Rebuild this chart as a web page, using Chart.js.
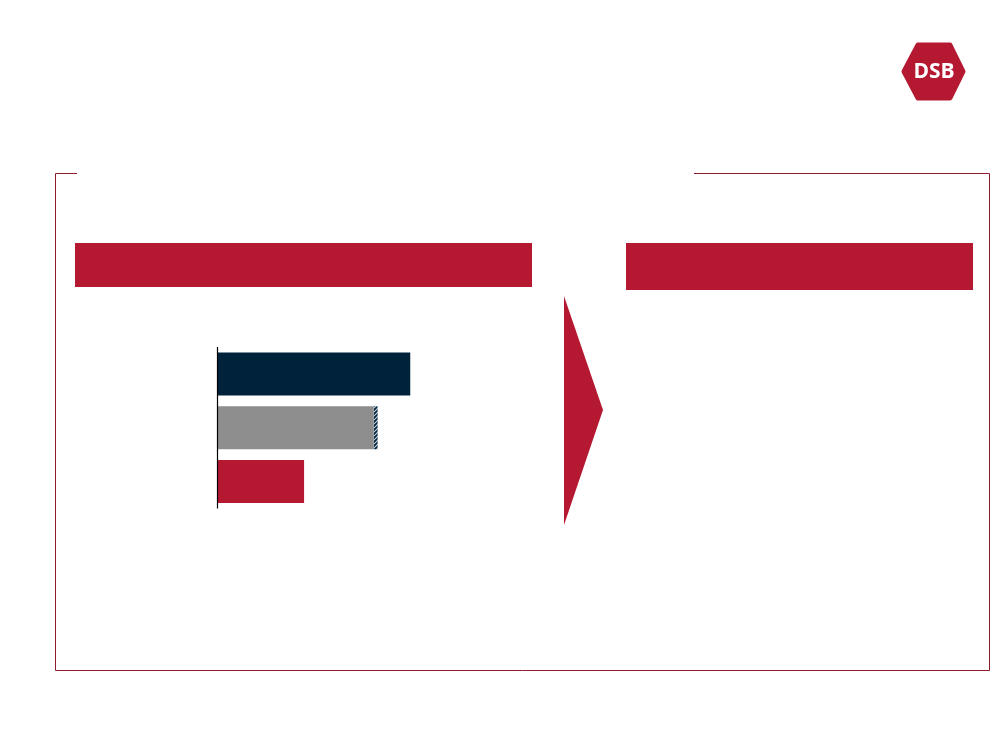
<!DOCTYPE html>
<html lang="da">
<head>
  <meta charset="UTF-8">
  <title>DSB bar chart</title>
  <script src="https://cdn.jsdelivr.net/npm/chart.js"></script>
  <style>
    html, body { margin: 0; padding: 0; background: #fff; }
    #chart { display: block; }
  </style>
</head>
<body>
<canvas id="chart" width="1000" height="750"></canvas>

<script>
  // data
  var categories = ['A', 'B', 'C'];
  var mainValues = [100, 81, 45];
  var hatchValues = [0, 2, 0];
  var barColors = ['#00233b', '#8e8e8e', '#b51831'];

  var red = '#b51831';

  // diagonal hatch for the small segment at the end of the grey bar
  function makeHatch() {
    var c = document.createElement('canvas');
    c.width = 4; c.height = 4;
    var g = c.getContext('2d');
    g.fillStyle = '#c9d6e2';
    g.fillRect(0, 0, 4, 4);
    g.strokeStyle = '#00233b';
    g.lineWidth = 1.8;
    g.beginPath();
    g.moveTo(0, 4); g.lineTo(4, 0);
    g.moveTo(-1, 1); g.lineTo(1, -1);
    g.moveTo(3, 5); g.lineTo(5, 3);
    g.stroke();
    return g.createPattern(c, 'repeat');
  }

  // frame, headers, arrow and logo around the chart
  var decor = {
    id: 'decor',
    beforeDraw: function(chart) {
      var ctx = chart.ctx;
      ctx.save();
      ctx.fillStyle = '#fff';
      ctx.fillRect(0, 0, chart.width, chart.height);

      // frame with a gap in the top line
      ctx.strokeStyle = '#8e1a2c';
      ctx.lineWidth = 1;
      ctx.beginPath();
      ctx.moveTo(77, 173.5); ctx.lineTo(55.5, 173.5); ctx.lineTo(55.5, 670.5);
      ctx.lineTo(989.5, 670.5); ctx.lineTo(989.5, 173.5); ctx.lineTo(694, 173.5);
      ctx.stroke();

      // header bars
      ctx.fillStyle = red;
      ctx.fillRect(75, 243, 457, 44);
      ctx.fillRect(626, 243, 347, 47);

      // arrow
      ctx.beginPath();
      ctx.moveTo(564, 296); ctx.lineTo(603, 410); ctx.lineTo(564, 525);
      ctx.closePath();
      ctx.fill();

      // logo
      ctx.beginPath();
      ctx.lineJoin = 'round';
      ctx.lineWidth = 5;
      ctx.strokeStyle = red;
      ctx.moveTo(918, 45); ctx.lineTo(950, 45); ctx.lineTo(963, 71.5);
      ctx.lineTo(950, 98); ctx.lineTo(918, 98); ctx.lineTo(904, 71.5);
      ctx.closePath();
      ctx.fill();
      ctx.stroke();
      ctx.fillStyle = '#fff';
      ctx.font = 'bold 21px "Open Sans", "DejaVu Sans", sans-serif';
      ctx.textAlign = 'center';
      ctx.textBaseline = 'middle';
      ctx.fillText('DSB', 934, 72);
      ctx.restore();
    },
    afterDatasetsDraw: function(chart) {
      var ctx = chart.ctx;
      var x0 = Math.round(chart.scales.x.getPixelForValue(0)) + 0.5;
      ctx.save();
      ctx.strokeStyle = '#000';
      ctx.lineWidth = 1.2;
      ctx.beginPath();
      ctx.moveTo(x0, chart.chartArea.top);
      ctx.lineTo(x0, chart.chartArea.bottom);
      ctx.stroke();
      ctx.restore();
    }
  };

  var ctx = document.getElementById('chart').getContext('2d');
  var chart = new Chart(ctx, {
    type: 'bar',
    data: {
      labels: categories,
      datasets: [{
        label: 'main',
        data: mainValues,
        backgroundColor: barColors,
        borderWidth: 0,
        categoryPercentage: 1,
        barPercentage: 0.8
      }, {
        label: 'hatch',
        data: hatchValues,
        backgroundColor: makeHatch(),
        borderWidth: 0,
        categoryPercentage: 1,
        barPercentage: 0.8
      }]
    },
    options: {
      indexAxis: 'y',
      responsive: false,
      animation: false,
      devicePixelRatio: 1,
      layout: {
        padding: { left: 217, top: 347, right: 589.5, bottom: 241.5 }
      },
      scales: {
        x: { display: false, stacked: true, min: 0, max: 100 },
        y: { display: false, stacked: true }
      },
      plugins: {
        legend: { display: false },
        tooltip: { enabled: false }
      }
    },
    plugins: [decor]
  });
</script>
</body>
</html>
